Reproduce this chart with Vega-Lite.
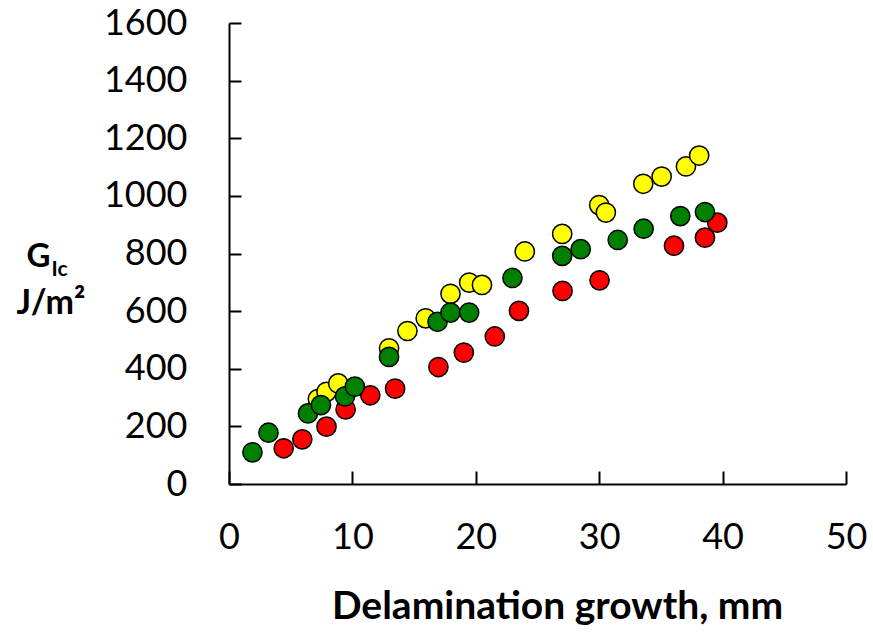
{
  "$schema": "https://vega.github.io/schema/vega-lite/v6.json",
  "width": 617,
  "height": 461,
  "autosize": {"type": "none"},
  "padding": {"left": 229, "top": 23, "right": 27, "bottom": 148},
  "background": "white",
  "config": {"view": {"stroke": null}, "font": "Lato"},
  "data": {
    "values": [
      {"series": "yellow", "growth": 7.2, "g": 295},
      {"series": "yellow", "growth": 7.9, "g": 320},
      {"series": "yellow", "growth": 8.85, "g": 349},
      {"series": "yellow", "growth": 12.97, "g": 471},
      {"series": "yellow", "growth": 14.46, "g": 531},
      {"series": "yellow", "growth": 15.94, "g": 575},
      {"series": "yellow", "growth": 17.95, "g": 660},
      {"series": "yellow", "growth": 19.46, "g": 699},
      {"series": "yellow", "growth": 20.5, "g": 691},
      {"series": "yellow", "growth": 23.97, "g": 807},
      {"series": "yellow", "growth": 27.0, "g": 868},
      {"series": "yellow", "growth": 30.0, "g": 968},
      {"series": "yellow", "growth": 30.54, "g": 942},
      {"series": "yellow", "growth": 33.57, "g": 1042},
      {"series": "yellow", "growth": 35.06, "g": 1067},
      {"series": "yellow", "growth": 37.03, "g": 1102},
      {"series": "yellow", "growth": 38.1, "g": 1140},
      {"series": "red", "growth": 4.43, "g": 124},
      {"series": "red", "growth": 5.94, "g": 155},
      {"series": "red", "growth": 7.9, "g": 199},
      {"series": "red", "growth": 9.45, "g": 259},
      {"series": "red", "growth": 11.45, "g": 308},
      {"series": "red", "growth": 13.46, "g": 331},
      {"series": "red", "growth": 16.97, "g": 406},
      {"series": "red", "growth": 19.03, "g": 456},
      {"series": "red", "growth": 21.54, "g": 512},
      {"series": "red", "growth": 23.5, "g": 601},
      {"series": "red", "growth": 27.03, "g": 670},
      {"series": "red", "growth": 30.03, "g": 707},
      {"series": "red", "growth": 36.06, "g": 827},
      {"series": "red", "growth": 38.57, "g": 855},
      {"series": "red", "growth": 39.57, "g": 907},
      {"series": "green", "growth": 1.9, "g": 110},
      {"series": "green", "growth": 3.2, "g": 178},
      {"series": "green", "growth": 6.4, "g": 245},
      {"series": "green", "growth": 7.45, "g": 274},
      {"series": "green", "growth": 9.4, "g": 304},
      {"series": "green", "growth": 10.2, "g": 338},
      {"series": "green", "growth": 12.97, "g": 441},
      {"series": "green", "growth": 16.9, "g": 563},
      {"series": "green", "growth": 17.95, "g": 595},
      {"series": "green", "growth": 19.46, "g": 595},
      {"series": "green", "growth": 22.97, "g": 715},
      {"series": "green", "growth": 27.0, "g": 792},
      {"series": "green", "growth": 28.5, "g": 815},
      {"series": "green", "growth": 31.5, "g": 847},
      {"series": "green", "growth": 33.6, "g": 886},
      {"series": "green", "growth": 36.57, "g": 930},
      {"series": "green", "growth": 38.57, "g": 944}
    ]
  },
  "encoding": {
    "color": {
      "field": "series",
      "type": "nominal",
      "scale": {"domain": ["yellow", "red", "green"], "range": ["#FFFF00", "#FF0000", "#008000"]},
      "legend": null
    }
  },
  "layer": [
    {
      "transform": [{"filter": "datum.series != 'green'"}],
      "mark": {"type": "point", "filled": true, "shape": "circle", "size": 370, "stroke": "black", "strokeWidth": 1.5, "opacity": 1},
      "encoding": {
        "x": {
          "field": "growth",
          "type": "quantitative",
          "scale": {"domain": [0, 50], "nice": false},
          "axis": {
            "values": [0, 10, 20, 30, 40, 50],
            "format": "d",
            "grid": false,
            "domainColor": "black",
            "domainWidth": 2,
            "tickColor": "black",
            "tickWidth": 2,
            "tickSize": -13,
            "labelFontSize": 36,
            "labelColor": "black",
            "labelPadding": 49,
            "labelFlush": false,
            "title": "Delamination growth, mm",
            "titleFontSize": 39,
            "titleFontWeight": "bold",
            "titleColor": "black",
            "titleX": 328,
            "titleY": 134,
            "titleAlign": "center",
            "titleBaseline": "alphabetic"
          }
        },
        "y": {
          "field": "g",
          "type": "quantitative",
          "scale": {"domain": [0, 1600], "nice": false},
          "axis": {
            "values": [0, 200, 400, 600, 800, 1000, 1200, 1400, 1600],
            "format": "d",
            "grid": false,
            "domainColor": "black",
            "domainWidth": 2,
            "tickColor": "black",
            "tickWidth": 2,
            "tickSize": -12,
            "labelFontSize": 36,
            "labelColor": "black",
            "labelPadding": 54,
            "labelFlush": false,
            "title": "J/m²",
            "titleFontSize": 34,
            "titleFontWeight": "bold",
            "titleColor": "black",
            "titleAngle": 0,
            "titleAlign": "left",
            "titleBaseline": "alphabetic",
            "titleX": -213,
            "titleY": 290
          }
        }
      }
    },
    {
      "transform": [{"filter": "datum.series == 'green'"}],
      "mark": {"type": "point", "filled": true, "shape": "circle", "size": 370, "stroke": "black", "strokeWidth": 1.5, "opacity": 1},
      "encoding": {
        "x": {
          "field": "growth",
          "type": "quantitative",
          "scale": {"domain": [0, 50], "nice": false},
          "axis": {
            "orient": "top",
            "domain": false,
            "ticks": false,
            "labels": false,
            "grid": false,
            "title": "Ic",
            "titleFontSize": 21,
            "titleFontWeight": "bold",
            "titleColor": "black",
            "titleAngle": 0,
            "titleAlign": "left",
            "titleBaseline": "alphabetic",
            "titleX": -178,
            "titleY": 252
          }
        },
        "y": {
          "field": "g",
          "type": "quantitative",
          "scale": {"domain": [0, 1600], "nice": false},
          "axis": {
            "orient": "right",
            "domain": false,
            "ticks": false,
            "labels": false,
            "grid": false,
            "title": "G",
            "titleFontSize": 33,
            "titleFontWeight": "bold",
            "titleColor": "black",
            "titleAngle": 0,
            "titleAlign": "left",
            "titleBaseline": "alphabetic",
            "titleX": -820,
            "titleY": 243
          }
        }
      }
    }
  ],
  "resolve": {"axis": {"x": "independent", "y": "independent"}}
}
